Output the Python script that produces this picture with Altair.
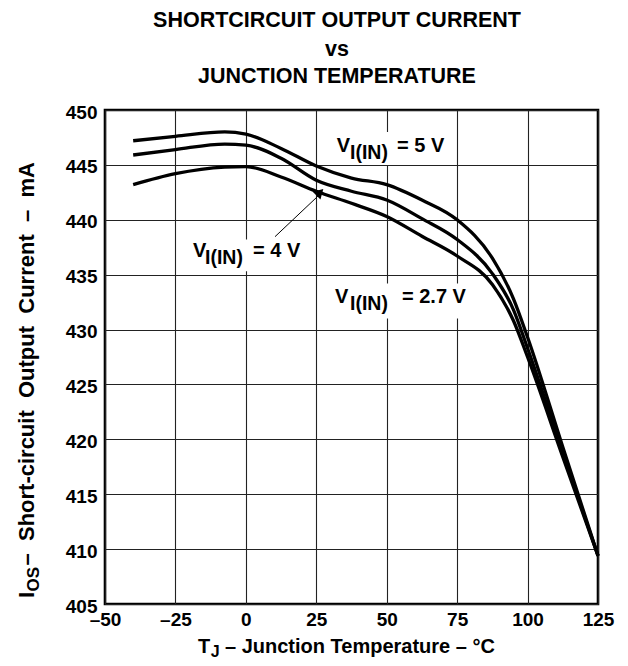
import altair as alt
import pandas as pd

# ---- data ----
temps = [-40, -25, -7.5, 0, 12.5, 25, 37.5, 50, 62.5, 75, 87.5, 95, 100, 112.5, 125]
i_5v = [447.2, 447.6, 448.0, 447.8, 446.5, 444.9, 443.8, 443.2, 441.8, 440.0, 436.5, 432.8, 429.3, 419.3, 409.4]
i_4v = [445.9, 446.4, 446.9, 446.8, 445.6, 443.6, 442.6, 441.8, 440.1, 438.2, 435.1, 431.8, 428.3, 418.8, 409.4]
i_27v = [443.2, 444.2, 444.8, 444.85, 443.9, 442.6, 441.5, 440.3, 438.5, 436.7, 434.1, 430.8, 427.5, 418.4, 409.4]
series_names = ["5 V", "4 V", "2.7 V"]
x_ticks = [-50, -25, 0, 25, 50, 75, 100, 125]
y_ticks = [405, 410, 415, 420, 425, 430, 435, 440, 445, 450]

rows = []
for name, vals in zip(series_names, [i_5v, i_4v, i_27v]):
    for t, v in zip(temps, vals):
        rows.append({"T": t, "I": v, "series": name})
df = pd.DataFrame(rows)

FONT = "Liberation Sans"
W, H = 493, 494
NB = "\u00a0"

xs = alt.Scale(domain=[-50, 125], nice=False, zero=False)
ys = alt.Scale(domain=[405, 450], nice=False, zero=False)

x_axis = alt.Axis(values=x_ticks, title=None, grid=True, ticks=False, domain=False,
                  labelFlush=False, labelPadding=6,
                  labelExpr="datum.value < 0 ? '\u2013' + abs(datum.value) : datum.label")
y_axis = alt.Axis(values=y_ticks, title=None, grid=True, ticks=False, domain=False,
                  labelPadding=8, labelOffset=2)

lines = alt.Chart(df).mark_line(color="black", strokeWidth=3.3, interpolate="monotone").encode(
    x=alt.X("T:Q", scale=xs, axis=x_axis),
    y=alt.Y("I:Q", scale=ys, axis=y_axis),
    detail="series:N",
)

# white boxes behind in-plot labels (hide gridlines)
boxes = pd.DataFrame({
    "x1": [29.9, -20.5, 29.9],
    "x2": [72.5, 22.0, 79.6],
    "y1": [448.0, 438.2, 434.2],
    "y2": [445.0, 435.3, 431.0],
})
box_layer = alt.Chart(boxes).mark_rect(fill="white").encode(
    x=alt.X("x1:Q", scale=xs), x2="x2:Q",
    y=alt.Y("y1:Q", scale=ys), y2="y2:Q",
)

# annotation text pieces (data coordinates)
ann = pd.DataFrame({
    "T":   [32.25, 36.97, 53.65, -18.76, -14.5, 2.54, 31.65, 36.97, 55.43],
    "I":   [446.2, 445.55, 446.2, 436.61, 435.97, 436.61, 432.42, 431.78, 432.42],
    "txt": ["V", "I(IN)", "= 5 V", "V", "I(IN)", "= 4 V", "V", "I(IN)", "= 2.7 V"],
    "fs":  [20, 19.5, 20, 20, 19.5, 20, 20, 19.5, 20],
})
ann_layer = alt.Chart(ann).mark_text(font=FONT, fontWeight="bold", align="left",
                                     baseline="alphabetic", color="black").encode(
    x=alt.X("T:Q", scale=xs), y=alt.Y("I:Q", scale=ys), text="txt:N",
    size=alt.Size("fs:Q", scale=None, legend=None),
)

# arrow for 4 V label
arrow = pd.DataFrame({"T": [10.35, 26.6], "I": [438.46, 442.4]})
arrow_line = alt.Chart(arrow).mark_line(color="black", strokeWidth=1).encode(
    x=alt.X("T:Q", scale=xs), y=alt.Y("I:Q", scale=ys))
head = pd.DataFrame({"T": [26.3], "I": [442.5]})
arrow_head = alt.Chart(head).mark_point(shape="triangle-up", filled=True, color="black",
                                         size=120, angle=45, opacity=1).encode(
    x=alt.X("T:Q", scale=xs), y=alt.Y("I:Q", scale=ys))

one = pd.DataFrame({"a": [0]})

def txt(text, x, y, size, align="left", angle=0, baseline="alphabetic"):
    kw = dict(font=FONT, fontWeight="bold", fontSize=size, align=align,
              baseline=baseline, color="black")
    if angle:
        kw["angle"] = angle
    return alt.Chart(one).mark_text(**kw).encode(
        x=alt.value(x), y=alt.value(y), text=alt.value(text))

title_layers = [
    txt("SHORTCIRCUIT OUTPUT CURRENT", 232, -83, 21.5, align="center"),
    txt("vs", 232, -54, 21.5, align="center"),
    txt("JUNCTION TEMPERATURE", 232, -27, 21.5, align="center"),
]

xtitle_layers = [
    txt("T", 93, 543, 20),
    txt("J", 105.7, 547, 16),
    txt("\u2013 Junction Temperature \u2013 \u00b0C", 120, 543, 20),
]

yb = 488
ytitle_layers = [
    txt("I", -71, yb, 22, angle=270),
    txt("OS", -66, yb - 6.6, 17, angle=270),
    txt(f"\u2013{NB}{NB}Short-circuit{NB}{NB}Output{NB}{NB}Current{NB}{NB}\u2013{NB}{NB}mA",
        -71, yb - 32.5, 22, angle=270),
]

chart = alt.layer(
    box_layer, lines, arrow_line, arrow_head, ann_layer,
    *title_layers, *xtitle_layers, *ytitle_layers,
).properties(
    width=W, height=H,
    autosize=alt.AutoSizeParams(type="none"),
    padding={"left": 97, "top": 102, "right": 22, "bottom": 56},
).configure_view(
    stroke="black", strokeWidth=2.6,
).configure_axis(
    labelFont=FONT, labelFontSize=19, labelFontWeight="bold", labelColor="black",
    gridColor="#222222", gridWidth=1.1, gridOpacity=1,
)

chart.save("out.html", embed_options={"renderer": "svg", "actions": False})
